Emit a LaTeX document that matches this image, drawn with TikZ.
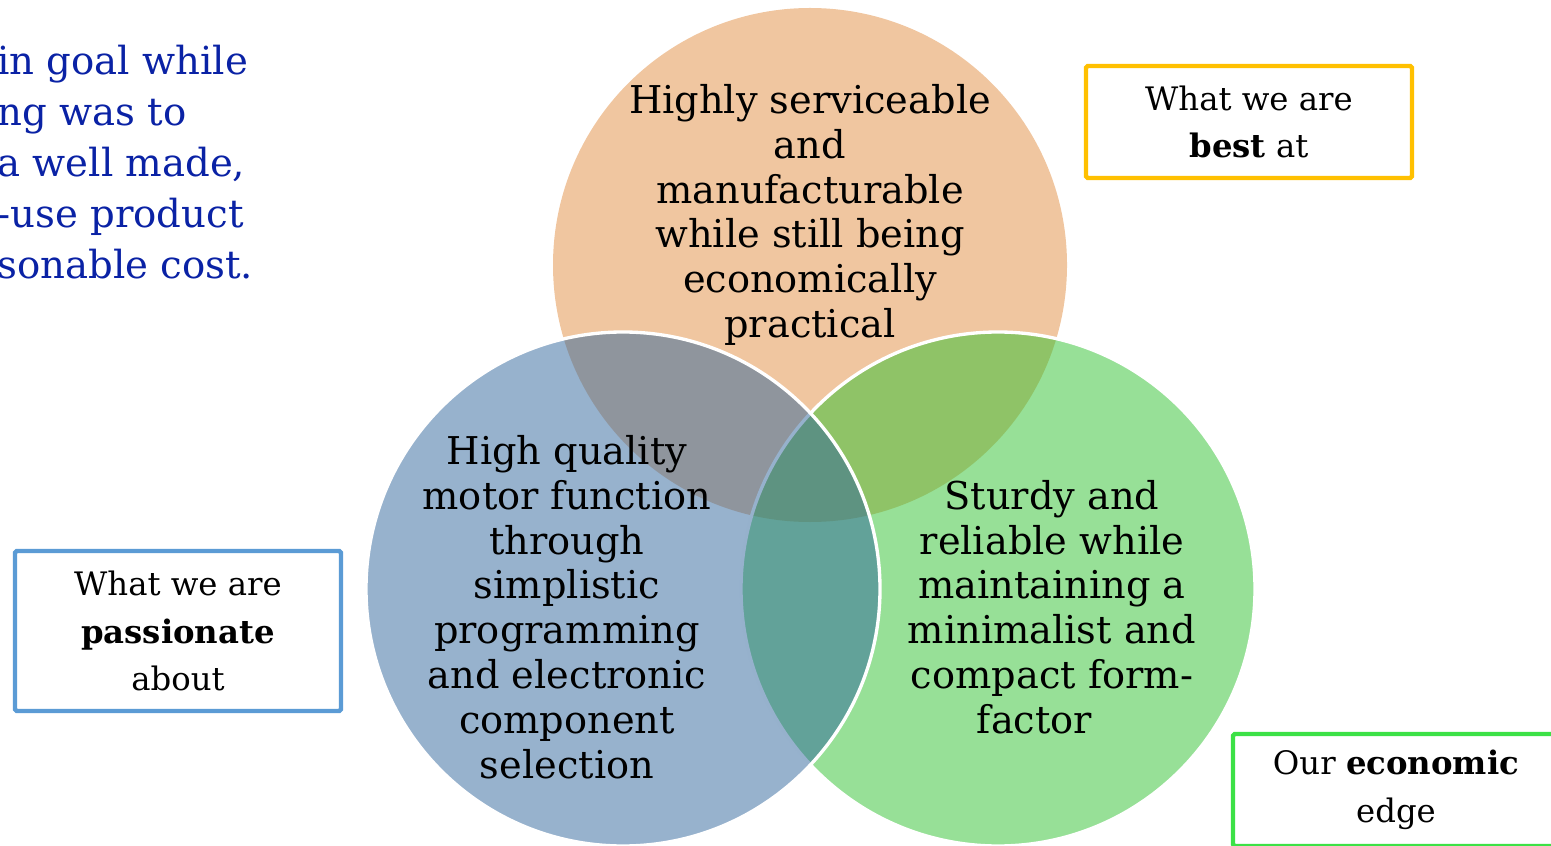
\documentclass[tikz,border=0pt]{standalone}
\usepackage{fontspec}
\setmainfont{DejaVu Serif}
\usetikzlibrary{positioning}

\definecolor{topFill}{RGB}{240,198,160}
\definecolor{leftFill}{RGB}{47,101,155}
\definecolor{rightFill}{RGB}{47,193,47}
\definecolor{goalBlue}{RGB}{10,34,165}
\definecolor{boxGold}{RGB}{255,192,0}
\definecolor{boxBlue}{RGB}{91,155,213}
\definecolor{boxGreen}{RGB}{60,225,70}

\begin{document}
\begin{tikzpicture}[
		x=0.2mm, y=-0.2mm,
		every node/.style={inner sep=0pt, text=black},
		% Stijlen
		bubble/.style={fill opacity=0.5, draw=white, line width=1.9pt},
		bubbletext/.style={align=center, font=\fontsize{21.8}{25.5}\selectfont},
		labelbox/.style={draw, line width=2.5pt, rounded corners=1pt, fill=white,
			minimum width=65.2mm, minimum height=22.4mm, align=center,
			font=\fontsize{18.4}{27}\selectfont},
		goal/.style={align=left, text=goalBlue, font=\fontsize{22}{29}\selectfont}
	]

	% --- Parameters ---
	\def\R{257}       % Straal van de cirkels

	% --- Coördinaten ---
	\useasboundingbox (0,0) rectangle (1551,846);
	\coordinate (TopC) at (810,265);
	\coordinate (LeftC) at (623,589);
	\coordinate (RightC) at (998,589);

	% --- 1. CIRKELS ---
	% Volgorde: boven, rechts, links (links ligt bovenop)
	\fill[topFill] (TopC) circle[radius=\R];
	\path[bubble, fill=rightFill] (RightC) circle[radius=\R];
	\path[bubble, fill=leftFill] (LeftC) circle[radius=\R];

	% --- 2. TEKST IN DE CIRKELS ---
	\node[bubbletext] (TopText) at (810,215) {Highly serviceable\\and\\manufacturable\\while still being\\economically\\practical};
	\node[bubbletext] (LeftText) at (567,607) {High quality\\motor function\\through\\simplistic\\programming\\and electronic\\component\\selection};
	\node[bubbletext] (RightText) at (1052,607) {Sturdy and\\reliable while\\maintaining a\\minimalist and\\compact form-\\factor\hspace*{7mm}};

	% --- 3. LABELS ---
	\node[labelbox, draw=boxGold] (BestBox) at (1249,122) {What we are\\\textbf{best} at};
	\node[labelbox, draw=boxBlue, minimum height=32mm] (PassionBox) at (178,631) {What we are\\\textbf{passionate}\\about};
	\node[labelbox, draw=boxGreen] (EdgeBox) at (1396,790) {Our \textbf{economic}\\edge};

	% --- 4. DOEL (loopt links van de rand af) ---
	\node[goal, anchor=north west] (GoalText) at (-3,45) {in goal while\\ng was to\\a well made,\\-use product\\sonable cost.};

\end{tikzpicture}
\end{document}
